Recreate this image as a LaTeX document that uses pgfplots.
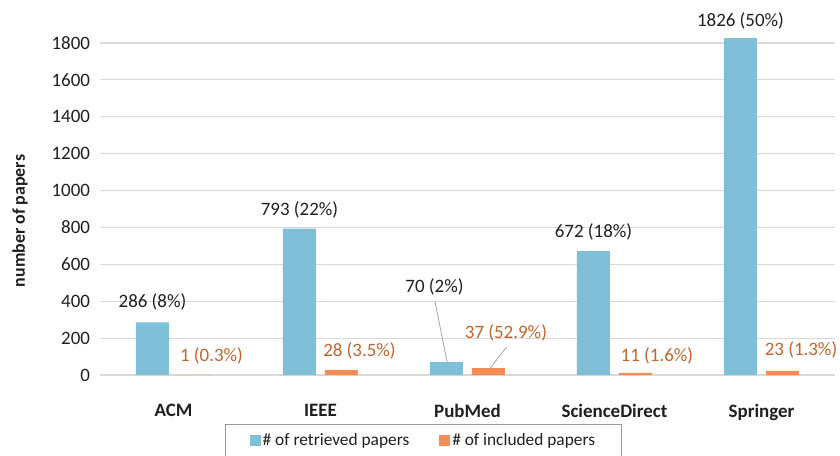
\documentclass[border=0pt]{standalone}
\usepackage{fontspec}
\setmainfont{Carlito}
\usepackage{pgfplots}
\usepackage{pgfplotstable}
\pgfplotsset{compat=1.18}

\definecolor{retr}{HTML}{7FBFD7}
\definecolor{incl}{HTML}{F68D55}
\definecolor{incltext}{HTML}{C0652B}
\definecolor{txt}{HTML}{1F1F1F}
\definecolor{gridc}{HTML}{D9D9D9}

% x, value, data label, label offset (pt) from bar top
\pgfplotstableread[col sep=comma]{
x,y,label,dx,dy
0,286,286 (8\%),0,15
1,793,793 (22\%),0,14.5
2,70,70 (2\%),-9,56.25
3,672,672 (18\%),0,14.5
4,1826,1826 (50\%),0,12.75
}\retrieved

\pgfplotstableread[col sep=comma]{
x,y,label,dx,dy
0,1,1 (0.3\%),12.75,14.25
1,28,28 (3.5\%),13.5,14.5
2,37,37 (52.9\%),13.1,26.6
3,11,11 (1.6\%),16.1,12.75
4,23,23 (1.3\%),13.9,15.75
}\included

\pgfplotsset{labelled/.style={
    forget plot,
    point meta=explicit symbolic,
    nodes near coords,
    visualization depends on={\thisrow{dx}\as\dx},
    visualization depends on={\thisrow{dy}\as\dy},
    nodes near coords style={anchor=center, xshift=\dx pt, yshift=\dy pt,
        font=\fontsize{14.2}{17}\selectfont},
}}

\begin{document}
\begin{tikzpicture}
\begin{axis}[
    scale only axis,
    width=551.25pt, height=249pt,
    ybar,
    bar width=24.75pt,
    xmin=-0.5, xmax=4.5,
    ymin=0, ymax=1800,
    clip=false,
    xtick=data,
    xticklabels={ACM, IEEE, PubMed, ScienceDirect, Springer},
    ytick={0,200,...,1800},
    ymajorgrids,
    major grid style={draw=gridc, line width=0.8pt},
    axis line style={draw=none},
    tick style={draw=none},
    /pgf/number format/assume math mode=true,
    /pgf/number format/set thousands separator={},
    yticklabel style={font=\fontsize{14.2}{17}\selectfont, text=txt, xshift=-4pt},
    xticklabel style={font=\fontsize{14.2}{17}\selectfont\bfseries, text=txt, yshift=-14pt},
    ylabel={number of papers},
    every axis y label/.style={at={(axis description cs:-0.1088,0.464)}, rotate=90, anchor=center,
        font=\fontsize{13.4}{16}\selectfont\bfseries, text=txt},
    legend style={at={(0.44,-0.1476)}, anchor=north, legend columns=2,
        draw=black!40, line width=0.8pt, inner xsep=18pt, inner ysep=5pt,
        font=\fontsize{13}{15}\selectfont, text=txt,
        nodes={inner xsep=1.5pt},
        /tikz/every even column/.append style={column sep=21pt}},
    legend image code/.code={\fill[#1] (0pt,-4pt) rectangle (8.25pt,4.25pt);},
]
\addplot[fill=retr, draw=none, bar shift=-15.75pt, labelled, nodes near coords style={text=txt}]
    table[x=x, y=y, meta=label] {\retrieved};
\addplot[fill=incl, draw=none, bar shift=15.75pt, labelled, nodes near coords style={text=incltext}]
    table[x=x, y=y, meta=label] {\included};
\addlegendimage{fill=retr, draw=none}
\addlegendentry{\# of retrieved papers}
\addlegendimage{fill=incl, draw=none}
\addlegendentry{\# of included papers}
% leader lines of the two moved PubMed labels
\draw[black!35, line width=0.6pt] (axis cs:1.779,397) -- (axis cs:1.863,66.7);
\draw[black!35, line width=0.6pt] (axis cs:2.267,153) -- (axis cs:2.153,36.3);
\end{axis}
\pgfresetboundingbox
\path[use as bounding box] (-75pt,-60pt) rectangle (555pt,281.25pt);
\end{tikzpicture}
\end{document}
